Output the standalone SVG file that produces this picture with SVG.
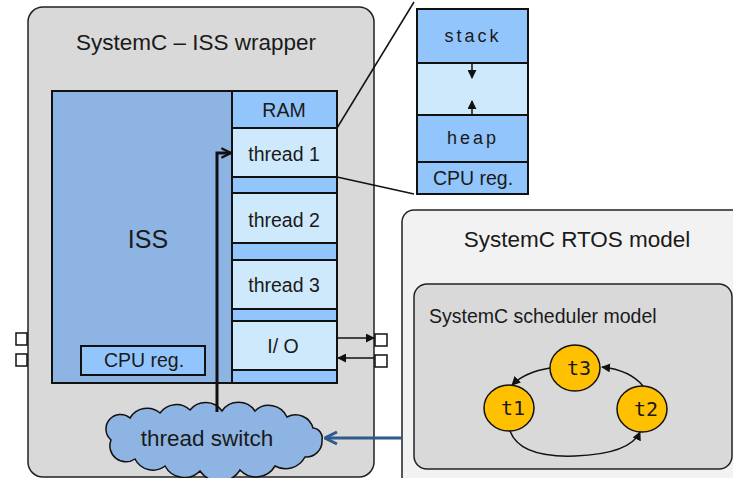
<svg xmlns="http://www.w3.org/2000/svg" width="733" height="478" viewBox="0 0 733 478">
<style>
text{font-family:"Liberation Sans",Arial,sans-serif;fill:#1a1a1a}
.box{stroke:#111;stroke-width:2}
.ram{fill:#93c5fd}
.thr{fill:#cfe9fc}
.lbl{font-size:19.5px;text-anchor:middle}
.mono{font-family:"DejaVu Sans Mono",monospace}
.ln{stroke:#111;fill:none}
</style>
<defs>
<marker id="tri" viewBox="0 0 10 10" refX="9" refY="5" markerWidth="6" markerHeight="6" orient="auto"><path d="M0,0L10,5L0,10z" fill="#111"/></marker>
<marker id="chev" viewBox="0 0 10 10" refX="9" refY="5" markerWidth="4" markerHeight="4" orient="auto"><path d="M1,1L9,5L1,9" fill="none" stroke="#111" stroke-width="2"/></marker>
<marker id="bchev" viewBox="0 0 10 10" refX="9" refY="5" markerWidth="5" markerHeight="5" orient="auto"><path d="M1,1L9,5L1,9" fill="none" stroke="#2f5a8c" stroke-width="2"/></marker>
</defs>
<g id="wrapper">
<rect x="28" y="7" width="346" height="470" rx="15" fill="#d9d9d9" stroke="#222" stroke-width="1.5"/>
<text x="196" y="50" font-size="22.5" text-anchor="middle">SystemC – ISS wrapper</text>
</g>
<g id="ports">
<rect x="16" y="333" width="11" height="12" fill="#fff" stroke="#111" stroke-width="1.5"/>
<rect x="16" y="354" width="11" height="12" fill="#fff" stroke="#111" stroke-width="1.5"/>
<rect x="375" y="334" width="12" height="12" fill="#fff" stroke="#111" stroke-width="1.5"/>
<rect x="375" y="355" width="12" height="12" fill="#fff" stroke="#111" stroke-width="1.5"/>
</g>
<g id="iss">
<rect x="52" y="91" width="180" height="292" fill="#8eb4e3" class="box"/>
<text x="148" y="248" font-size="25" text-anchor="middle">ISS</text>
<rect x="81" y="346" width="124" height="29" class="box ram"/>
<text x="144" y="367" class="lbl">CPU reg.</text>
</g>
<g id="ram">
<rect x="232" y="91" width="105" height="292" class="box ram"/>
<text x="284" y="117" class="lbl">RAM</text>
</g>
<g id="thread1"><rect x="232" y="128" width="105" height="49" class="box thr"/><text x="284" y="161" class="lbl">thread 1</text></g>
<g id="thread2"><rect x="232" y="193" width="105" height="50" class="box thr"/><text x="284" y="227" class="lbl">thread 2</text></g>
<g id="thread3"><rect x="232" y="260" width="105" height="49" class="box thr"/><text x="284" y="292" class="lbl">thread 3</text></g>
<g id="io"><rect x="232" y="321" width="105" height="49" class="box thr"/><text x="283" y="353" class="lbl">I/ O</text></g>
<g id="memory-detail">
<rect x="417" y="9" width="111" height="54" class="box ram"/>
<text x="473" y="42" font-size="18" text-anchor="middle" letter-spacing="3">stack</text>
<rect x="417" y="63" width="111" height="52" class="box thr"/>
<rect x="417" y="115" width="111" height="47" class="box ram"/>
<text x="473" y="144" font-size="18" text-anchor="middle" letter-spacing="3">heap</text>
<rect x="417" y="162" width="111" height="32" class="box ram"/>
<text x="473" y="185" class="lbl">CPU reg.</text>
</g>
<g id="thread-switch">
<path d="M111,440 A14,14 0 0 1 130,418 A20,20 0 0 1 160,413 A20,20 0 0 1 190,410 A20,20 0 0 1 222,411 A20,20 0 0 1 255,411 A20,20 0 0 1 287,417 A18,18 0 0 1 313,428 A10,10 0 0 1 322,440 A16,16 0 0 1 305,457 A22,22 0 0 1 275,466 A22,22 0 0 1 240,470 A24,24 0 0 1 200,471 A22,22 0 0 1 165,466 A20,20 0 0 1 135,459 A16,16 0 0 1 111,440 Z" fill="#8eb4e3" stroke="#111" stroke-width="1.5"/>
<text x="207" y="446" font-size="22.5" text-anchor="middle">thread switch</text>
</g>
<g id="rtos">
<rect x="402" y="210" width="345" height="280" rx="12" fill="#f2f2f2" stroke="#222" stroke-width="1.5"/>
<text x="577" y="247" font-size="22.5" text-anchor="middle">SystemC RTOS model</text>
</g>
<g id="scheduler">
<rect x="414" y="284" width="318" height="185" rx="13" fill="#d9d9d9" stroke="#222" stroke-width="1.5"/>
<text x="429" y="323" font-size="19.5">SystemC scheduler model</text>
</g>
<g id="t3"><ellipse cx="575" cy="368" rx="25" ry="23" fill="#ffc000" stroke="#111" stroke-width="1.5"/><text x="579" y="375" font-size="20" text-anchor="middle" class="mono">t3</text></g>
<g id="t1"><ellipse cx="509" cy="408" rx="25" ry="23" fill="#ffc000" stroke="#111" stroke-width="1.5"/><text x="513" y="415" font-size="20" text-anchor="middle" class="mono">t1</text></g>
<g id="t2"><ellipse cx="642" cy="409" rx="25" ry="23" fill="#ffc000" stroke="#111" stroke-width="1.5"/><text x="646" y="416" font-size="20" text-anchor="middle" class="mono">t2</text></g>
<g id="connectors">
<line x1="337" y1="128" x2="414" y2="2" class="ln" stroke-width="1.5"/>
<line x1="337" y1="177" x2="414" y2="194" class="ln" stroke-width="1.5"/>
<polyline points="217,412 217,153 231,153" class="ln" stroke-width="3" marker-end="url(#chev)"/>
<line x1="337" y1="338" x2="374" y2="338" class="ln" stroke-width="1.5" marker-end="url(#tri)"/>
<line x1="374" y1="358" x2="338" y2="358" class="ln" stroke-width="1.5" marker-end="url(#tri)"/>
<line x1="472" y1="63" x2="472" y2="78" class="ln" stroke-width="1.5" marker-end="url(#tri)"/>
<line x1="472" y1="115" x2="472" y2="101" class="ln" stroke-width="1.5" marker-end="url(#tri)"/>
<line x1="402" y1="438" x2="325" y2="438" stroke="#2f5a8c" stroke-width="3" marker-end="url(#bchev)"/>
<path d="M550,368 Q525,372 512,385" class="ln" stroke-width="1.5" marker-end="url(#tri)"/>
<path d="M643,386 Q630,370 602,367" class="ln" stroke-width="1.5" marker-end="url(#tri)"/>
<path d="M510,431 Q520,458 575,456 Q630,454 640,432" class="ln" stroke-width="1.5" marker-end="url(#tri)"/>
</g>
</svg>
